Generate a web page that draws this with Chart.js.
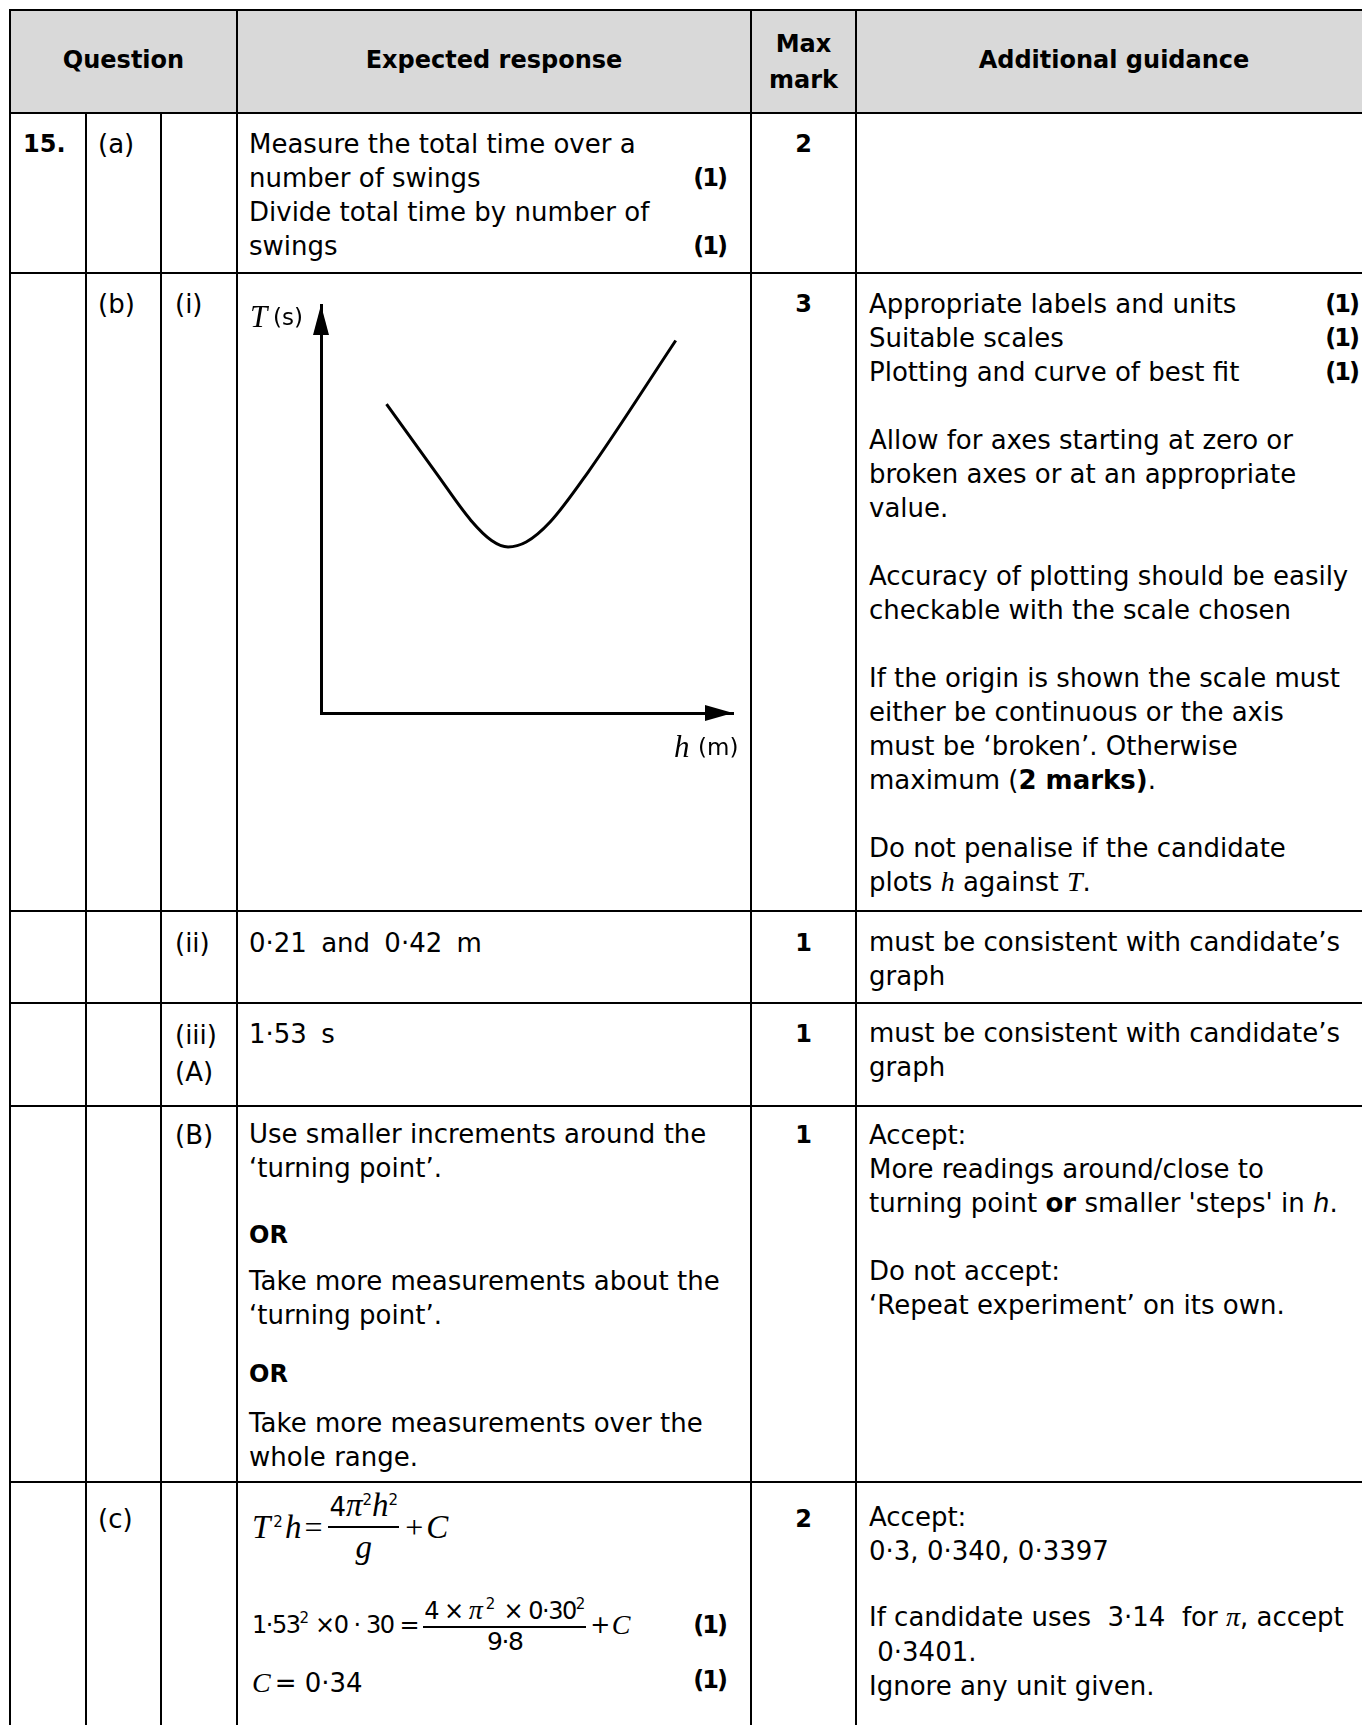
<!DOCTYPE html>
<html>
<head>
<meta charset="utf-8">
<script src="https://cdn.jsdelivr.net/npm/chart.js@4.4.0/dist/chart.umd.min.js"></script>
<style>
  html, body { margin: 0; padding: 0; }
  body { width: 1362px; height: 1725px; overflow: hidden; position: relative; background: #fff; color: #000;
         font-family: "DejaVu Sans", Verdana, sans-serif; font-size: 26px; }
  .hl { position: absolute; left: 9px; width: 1400px; height: 2px; background: #000; }
  .vl { position: absolute; width: 2px; background: #000; }
  .t { position: absolute; line-height: 34px; white-space: nowrap; }
  .t > div { position: relative; height: 34px; }
  .b { font-weight: bold; font-size: 24px; }
  .c { text-align: center; }
  .rt { position: absolute; right: 2px; top: 0; font-weight: bold; font-size: 24px; letter-spacing: -2px; }
  .mk { position: absolute; width: 90px; text-align: right; line-height: 34px; font-weight: bold; font-size: 24px; letter-spacing: -2px; }
  .m { font-family: "Liberation Serif", "Times New Roman", serif; font-style: italic; font-size: 28px; }
  .m1 { font-family: "Liberation Serif", "Times New Roman", serif; font-style: italic; font-size: 33px; }
  .s1 { font-family: "Liberation Serif", "Times New Roman", serif; font-size: 32px; margin: 0 3px; }
  sup { font-size: 15px; vertical-align: 11px; line-height: 0; }
  .sp { margin-left: 3px; margin-right: 2px; }
  .eq { position: absolute; display: flex; align-items: center; white-space: nowrap; }
  .frac { display: inline-flex; flex-direction: column; align-items: center; }
  .f1 { margin: 0 3px 0 3px; }
  .f1 .num { border-bottom: 2px solid #000; line-height: 38px; padding: 0 1px; }
  .f1 .den { line-height: 38px; }
  .l2 { font-size: 24px; letter-spacing: -1.5px; }
  .l2 sup { font-size: 15px; vertical-align: 10px; letter-spacing: 0; }
  .f2 { margin: 0 4px 0 5px; }
  .f2 .num { border-bottom: 2px solid #000; line-height: 30px; padding: 0 1px; }
  .f2 .den { line-height: 28px; font-size: 25px; }
  #chartBox { position: absolute; left: 239px; top: 275px; width: 510px; height: 634px; }
</style>
</head>
<body>

<!-- header shading -->
<div style="position:absolute;left:10px;top:10px;width:1400px;height:103px;background:#d9d9d9;"></div>

<!-- grid lines -->
<div class="hl" style="top:9px"></div>
<div class="hl" style="top:112px"></div>
<div class="hl" style="top:272px"></div>
<div class="hl" style="top:910px"></div>
<div class="hl" style="top:1002px"></div>
<div class="hl" style="top:1105px"></div>
<div class="hl" style="top:1481px"></div>
<div class="vl" style="left:9px;top:9px;height:1716px"></div>
<div class="vl" style="left:85px;top:112px;height:1613px"></div>
<div class="vl" style="left:160px;top:112px;height:1613px"></div>
<div class="vl" style="left:236px;top:9px;height:1716px"></div>
<div class="vl" style="left:750px;top:9px;height:1716px"></div>
<div class="vl" style="left:855px;top:9px;height:1716px"></div>

<!-- header -->
<div class="t b c" style="left:10px;width:227px;top:43px">Question</div>
<div class="t b c" style="left:237px;width:514px;top:43px">Expected response</div>
<div class="t b c" style="left:751px;width:105px;top:26px;line-height:36px">Max<br>mark</div>
<div class="t b c" style="left:856px;width:516px;top:43px">Additional guidance</div>

<!-- row (a) -->
<div class="t b" style="left:23px;top:127px">15.</div>
<div class="t" style="left:98px;top:127px">(a)</div>
<div class="t" style="left:249px;top:127px;width:479px">
  <div>Measure the total time over a</div>
  <div>number of swings<span class="rt">(1)</span></div>
  <div>Divide total time by number of</div>
  <div>swings<span class="rt">(1)</span></div>
</div>
<div class="t b c" style="left:751px;width:105px;top:127px">2</div>

<!-- row (b)(i) -->
<div class="t" style="left:98px;top:287px">(b)</div>
<div class="t" style="left:175px;top:287px">(i)</div>
<div id="chartBox"><canvas id="sketch"></canvas></div>
<div class="t b c" style="left:751px;width:105px;top:287px">3</div>
<div class="t" style="left:869px;top:287px;width:491px">
  <div>Appropriate labels and units<span class="rt">(1)</span></div>
  <div>Suitable scales<span class="rt">(1)</span></div>
  <div>Plotting and curve of best fit<span class="rt">(1)</span></div>
  <div></div>
  <div>Allow for axes starting at zero or</div>
  <div>broken axes or at an appropriate</div>
  <div>value.</div>
  <div></div>
  <div>Accuracy of plotting should be easily</div>
  <div>checkable with the scale chosen</div>
  <div></div>
  <div>If the origin is shown the scale must</div>
  <div>either be continuous or the axis</div>
  <div>must be ‘broken’. Otherwise</div>
  <div>maximum (<b>2 marks)</b>.</div>
  <div></div>
  <div>Do not penalise if the candidate</div>
  <div>plots <span class="m">h</span> against <span class="m">T</span>.</div>
</div>

<!-- row (ii) -->
<div class="t" style="left:175px;top:926px">(ii)</div>
<div class="t" style="left:249px;top:926px;word-spacing:6px">0·21 and 0·42 m</div>
<div class="t b c" style="left:751px;width:105px;top:926px">1</div>
<div class="t" style="left:869px;top:925px">
  <div>must be consistent with candidate’s</div>
  <div>graph</div>
</div>

<!-- row (iii)(A) -->
<div class="t" style="left:175px;top:1017px;line-height:37px">(iii)<br>(A)</div>
<div class="t" style="left:249px;top:1017px;word-spacing:6px">1·53 s</div>
<div class="t b c" style="left:751px;width:105px;top:1017px">1</div>
<div class="t" style="left:869px;top:1016px">
  <div>must be consistent with candidate’s</div>
  <div>graph</div>
</div>

<!-- row (B) -->
<div class="t" style="left:175px;top:1118px">(B)</div>
<div class="t" style="left:249px;top:1117px">
  <div>Use smaller increments around the</div>
  <div>‘turning point’.</div>
  <div class="b" style="margin-top:33px">OR</div>
  <div style="margin-top:12px">Take more measurements about the</div>
  <div>‘turning point’.</div>
  <div class="b" style="margin-top:25px">OR</div>
  <div style="margin-top:15px">Take more measurements over the</div>
  <div>whole range.</div>
</div>
<div class="t b c" style="left:751px;width:105px;top:1118px">1</div>
<div class="t" style="left:869px;top:1118px">
  <div>Accept:</div>
  <div>More readings around/close to</div>
  <div>turning point <b>or</b> smaller 'steps' in <i>h</i>.</div>
  <div></div>
  <div>Do not accept:</div>
  <div>‘Repeat experiment’ on its own.</div>
</div>

<!-- row (c) -->
<div class="t" style="left:98px;top:1502px">(c)</div>
<div class="t b c" style="left:751px;width:105px;top:1502px">2</div>

<div class="eq" style="left:252px;top:1487px;height:80px">
  <span><span class="m1">T</span><sup class="sp">2</sup><span class="m1">h</span></span><span class="s1">=</span>
  <span class="frac f1"><span class="num">4<span class="m1">π</span><sup>2</sup><span class="m1">h</span><sup>2</sup></span><span class="den"><span class="m1">g</span></span></span>
  <span class="s1">+</span><span class="m1">C</span>
</div>

<div class="eq l2" style="left:252px;top:1585px;height:80px">
  <span>1·53<sup>2</sup> ×0 · 30 =</span>
  <span class="frac f2"><span class="num">4 × <span class="m" style="letter-spacing:0">π</span><sup class="sp">2</sup> × 0·30<sup>2</sup></span><span class="den">9·8</span></span>
  <span>+</span><span class="m" style="margin-left:3px">C</span>
</div>
<div class="mk" style="left:636px;top:1608px">(1)</div>

<div class="eq" style="left:252px;top:1666px;height:34px">
  <span class="m">C</span><span style="margin-left:4px">= 0·34</span>
</div>
<div class="mk" style="left:636px;top:1663px">(1)</div>

<div class="t" style="left:869px;top:1500px">
  <div>Accept:</div>
  <div>0·3, 0·340, 0·3397</div>
  <div style="margin-top:32px">If candidate uses &nbsp;3·14 &nbsp;for <span class="m">π</span>, accept</div>
  <div style="margin-top:1px">&nbsp;0·3401.</div>
  <div style="margin-top:0px">Ignore any unit given.</div>
</div>

<script>
// sketch of T against h: no scale on either axis, so values are in axis units 0..1
const hValues = [0.159, 0.281, 0.364, 0.414, 0.454, 0.498, 0.556, 0.648, 0.861];
const tValues = [0.757, 0.586, 0.472, 0.423, 0.407, 0.419, 0.468, 0.590, 0.913];
const axisMin = 0;
const axisMax = 1;

// arrow heads on the axis ends and the axis labels
const axisArrows = {
  id: 'axisArrows',
  afterDraw(chart) {
    const ctx = chart.ctx;
    const x0 = chart.scales.x.getPixelForValue(axisMin);
    const x1 = chart.scales.x.getPixelForValue(axisMax);
    const y0 = chart.scales.y.getPixelForValue(axisMin);
    const y1 = chart.scales.y.getPixelForValue(axisMax);
    ctx.save();
    ctx.fillStyle = '#000';
    ctx.beginPath();
    ctx.moveTo(x0, y1);
    ctx.lineTo(x0 - 8, y1 + 30);
    ctx.lineTo(x0 + 8, y1 + 30);
    ctx.closePath();
    ctx.fill();
    ctx.beginPath();
    ctx.moveTo(x1, y0);
    ctx.lineTo(x1 - 28, y0 - 8);
    ctx.lineTo(x1 - 28, y0 + 8);
    ctx.closePath();
    ctx.fill();

    ctx.textBaseline = 'middle';
    ctx.textAlign = 'left';
    ctx.font = 'italic 31px "Liberation Serif"';
    ctx.fillText('T', x0 - 71, y1 + 14);
    ctx.font = '23px "DejaVu Sans"';
    ctx.fillText('(s)', x0 - 48, y1 + 14);
    ctx.font = 'italic 31px "Liberation Serif"';
    ctx.fillText('h', x1 - 59, y0 + 36);
    ctx.font = '23px "DejaVu Sans"';
    ctx.fillText('(m)', x1 - 35, y0 + 36);
    ctx.restore();
  }
};

const points = [];
for (let i in hValues) {
  points.push({ x: hValues[i], y: tValues[i] });
}

new Chart(document.getElementById('sketch'), {
  type: 'line',
  data: {
    datasets: [{
      data: points,
      borderColor: '#000',
      borderWidth: 3,
      pointRadius: 0,
      fill: false,
      cubicInterpolationMode: 'monotone'
    }]
  },
  options: {
    animation: false,
    responsive: true,
    maintainAspectRatio: false,
    layout: { padding: { left: 82, top: 30, right: 16, bottom: 196 } },
    plugins: { legend: { display: false }, tooltip: { enabled: false } },
    scales: {
      x: {
        type: 'linear', min: axisMin, max: axisMax,
        ticks: { display: false },
        grid: { display: false, drawTicks: false },
        border: { display: true, color: '#000', width: 3 }
      },
      y: {
        type: 'linear', min: axisMin, max: axisMax,
        ticks: { display: false },
        grid: { display: false, drawTicks: false },
        border: { display: true, color: '#000', width: 3 }
      }
    }
  },
  plugins: [axisArrows]
});
</script>
</body>
</html>
